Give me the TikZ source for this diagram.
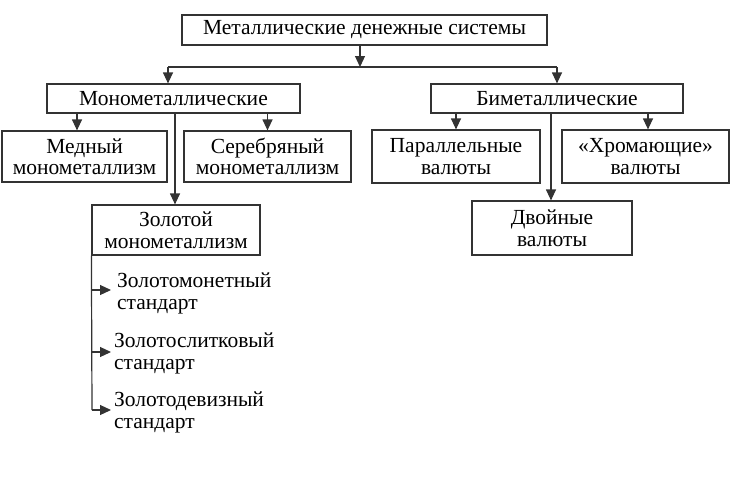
\documentclass[tikz,border=0pt]{standalone}
\usepackage{fontspec}
\setmainfont{Liberation Serif}
\usetikzlibrary{arrows.meta}
\begin{document}
\begin{tikzpicture}[x=1pt,y=-1pt,
  box/.style={draw=black!80,line width=1.2pt,inner sep=0pt,align=center,
    font=\fontsize{21.5}{21.5}\selectfont,text=black},
  arr/.style={draw=black!80,line width=1.2pt,-{Triangle[length=11pt,width=10pt]}},
  ln/.style={draw=black!80,line width=1.2pt},
  item/.style={anchor=west,align=left,inner sep=0pt,font=\fontsize{21.5}{22}\selectfont,text=black}]
\useasboundingbox (0,0) rectangle (730,480);
\node[box,minimum width=365pt,minimum height=30pt] (top) at (364.5,30) {Металлические денежные системы};
\node[box,minimum width=253pt,minimum height=29pt] (mono) at (173.5,98.5) {Монометаллические};
\node[box,minimum width=252pt,minimum height=29pt] (bi) at (557,98.5) {Биметаллические};
\node[box,minimum width=165pt,minimum height=51pt] (med) at (84.5,156.5) {Медный\\монометаллизм};
\node[box,minimum width=167pt,minimum height=51pt] (ser) at (267.5,156.5) {Серебряный\\монометаллизм};
\node[box,minimum width=168pt,minimum height=50pt] (zol) at (176,230) {Золотой\\монометаллизм};
\node[box,minimum width=168pt,minimum height=53pt] (par) at (456,156.5) {Параллельные\\валюты};
\node[box,minimum width=167pt,minimum height=53pt] (chr) at (645.5,156.5) {«Хромающие»\\валюты};
\node[box,minimum width=160pt,minimum height=54pt] (dv) at (552,228) {Двойные\\валюты};
\node[item] (i1) at (117,293) {Золотомонетный\\стандарт};
\node[item] (i2) at (114,353) {Золотослитковый\\стандарт};
\node[item] (i3) at (114,412) {Золотодевизный\\стандарт};
\coordinate (jl) at (168,67);
\coordinate (jm) at (360,67);
\coordinate (jr) at (557,67);
\coordinate (b1) at (92,290);
\coordinate (b2) at (92,352);
\coordinate (b3) at (92,410);
\draw[arr] (top.south -| jm) -- (jm);
\draw[ln] (jl) -- (jr);
\draw[arr] (jl) -- (mono.north -| jl);
\draw[arr] (jr) -- (bi.north -| jr);
\draw[arr] ([xshift=-7.5pt]med.north |- mono.south) -- ([xshift=-7.5pt]med.north);
\draw[arr] (ser.north |- mono.south) -- (ser.north);
\draw[arr] ([xshift=-1pt]zol.north |- mono.south) -- ([xshift=-1pt]zol.north);
\draw[arr] (par.north |- bi.south) -- (par.north);
\draw[arr] ([xshift=2.5pt]chr.north |- bi.south) -- ([xshift=2.5pt]chr.north);
\draw[arr] ([xshift=-1pt]dv.north |- bi.south) -- ([xshift=-1pt]dv.north);
\draw[ln] (zol.south west) -- (b3);
\draw[arr] (b1) -- ([xshift=-6pt]i1.west |- b1);
\draw[arr] (b2) -- ([xshift=-3pt]i2.west |- b2);
\draw[arr] (b3) -- ([xshift=-3pt]i3.west |- b3);
\end{tikzpicture}
\end{document}
